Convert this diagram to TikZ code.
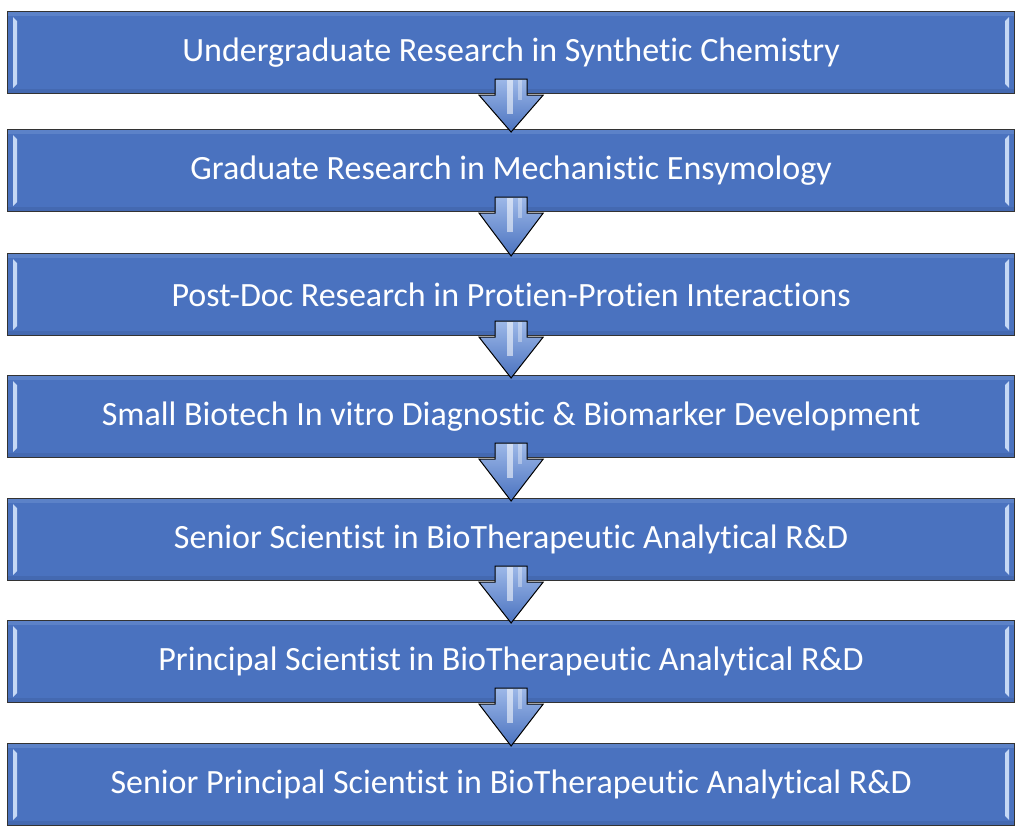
\documentclass[tikz,border=0pt]{standalone}
\usepackage{fontspec}
\setmainfont[Ligatures=NoCommon]{Carlito}
\definecolor{boxblue}{HTML}{4A72BF}
\definecolor{boxlight}{HTML}{7FA0DA}
\definecolor{hilite}{HTML}{C5D8F5}
\definecolor{arrowlight}{HTML}{9DB8E8}
\definecolor{arrowdark}{HTML}{4A72BF}
\begin{document}
\begin{tikzpicture}[x=1pt,y=-1pt,
  stagebox/.style={draw=black!80,line width=1.2pt,fill=boxblue,minimum width=1007pt,minimum height=82pt,inner sep=0pt,
    text=white,font=\fontsize{34}{40}\selectfont,anchor=north west},
  downarrow/.style={draw=black,line width=1pt,line join=miter,top color=arrowlight,bottom color=arrowdark,shading angle=0}
]
\useasboundingbox (0,0) rectangle (1024,835);
\fill[white] (0,0) rectangle (1024,835);
\foreach \n/\t/\txt in {
  1/11/Undergraduate Research in Synthetic Chemistry,
  2/129/Graduate Research in Mechanistic Ensymology,
  3/253/Post-Doc Research in Protien-Protien Interactions,
  4/375/Small Biotech In vitro Diagnostic \& Biomarker Development,
  5/498/Senior Scientist in BioTherapeutic Analytical R\&D,
  6/620/Principal Scientist in BioTherapeutic Analytical R\&D,
  7/743/Senior Principal Scientist in BioTherapeutic Analytical R\&D}{
  \node[stagebox] (b\n) at (7,\t) {\txt};
  % bevel highlights
  \fill[boxlight,opacity=0.35] ([xshift=1pt,yshift=-1pt]b\n.north west) rectangle ([xshift=-1pt,yshift=-5pt]b\n.north east);
  \fill[black,opacity=0.07] ([xshift=1pt,yshift=5pt]b\n.south west) rectangle ([xshift=-1pt,yshift=1pt]b\n.south east);
  \fill[hilite] ([xshift=6pt,yshift=-6pt]b\n.north west) -- ([xshift=10pt,yshift=-10pt]b\n.north west) -- ([xshift=10pt,yshift=10pt]b\n.south west) -- ([xshift=6pt,yshift=6pt]b\n.south west) -- cycle;
  \fill[hilite] ([xshift=-6pt,yshift=-6pt]b\n.north east) -- ([xshift=-10pt,yshift=-10pt]b\n.north east) -- ([xshift=-10pt,yshift=10pt]b\n.south east) -- ([xshift=-6pt,yshift=6pt]b\n.south east) -- cycle;
}
\foreach \a/\b in {1/2,2/3,3/4,4/5,5/6,6/7}{
  \coordinate (s\a) at (b\a.south);
  \coordinate (t\a) at ([yshift=-3pt]b\b.north);
  \draw[downarrow] ([xshift=-16pt,yshift=15pt]s\a) -- ([xshift=16pt,yshift=15pt]s\a) -- ([xshift=16pt,yshift=-1pt]s\a)
     -- ([xshift=32pt,yshift=-1pt]s\a) -- (t\a) -- ([xshift=-32pt,yshift=-1pt]s\a) -- ([xshift=-16pt,yshift=-1pt]s\a) -- cycle;
  \fill[white,opacity=0.55] ([xshift=-4pt,yshift=14pt]s\a) rectangle ([xshift=2pt,yshift=-20pt]s\a);
  \fill[white,opacity=0.35] ([xshift=7pt,yshift=14pt]s\a) rectangle ([xshift=11pt,yshift=-6pt]s\a);
}
\end{tikzpicture}
\end{document}
